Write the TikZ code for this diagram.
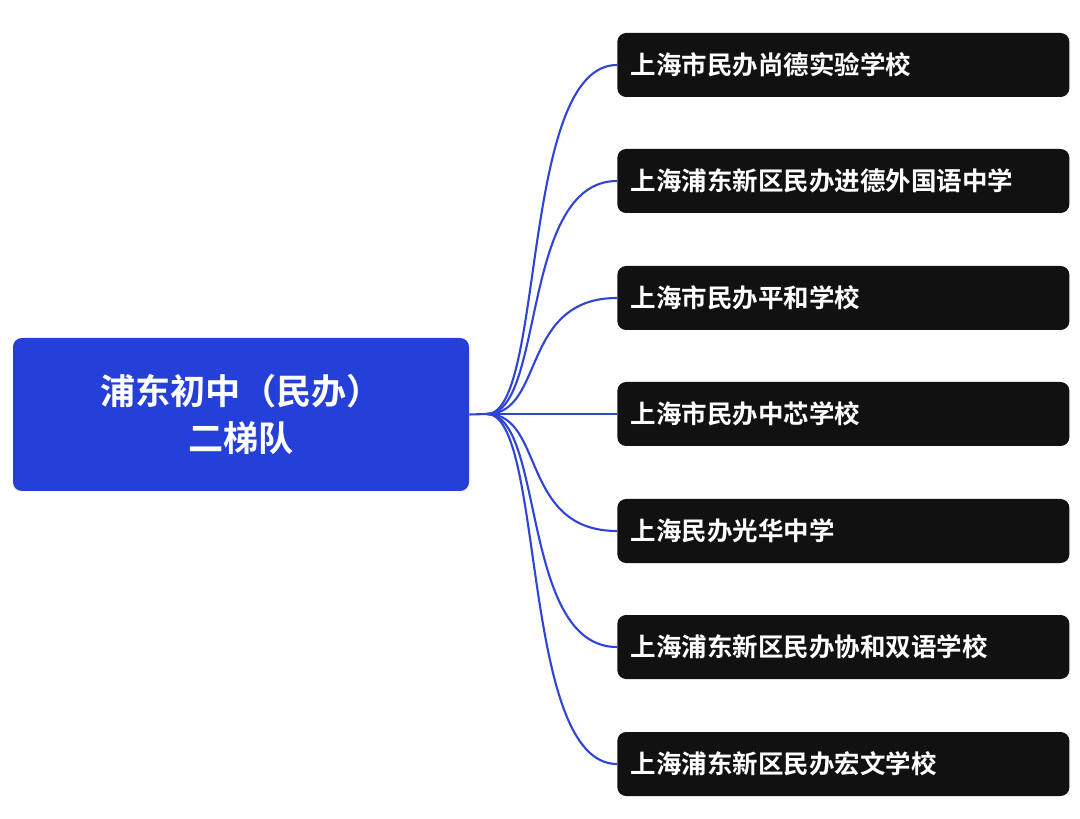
\documentclass[tikz,border=0pt]{standalone}
\usepackage{fontspec}
\newfontfamily\cjk[BoldFont={Noto Sans CJK SC Bold}]{Noto Sans CJK SC}
\definecolor{rootblue}{HTML}{2440D8}
\definecolor{leafblack}{HTML}{111111}
\definecolor{linkblue}{HTML}{2F45D6}
\tikzset{
  rootbox/.style={fill=rootblue, rounded corners=5pt, minimum width=9.12cm, minimum height=3.06cm,
    text=white, font=\cjk\bfseries\fontsize{20}{27}\selectfont, align=center},
  leafbox/.style={fill=leafblack, rounded corners=5pt, minimum width=9.04cm, minimum height=1.28cm,
    text=white, font=\cjk\bfseries\fontsize{14.5}{17}\selectfont, anchor=west, text width=8.5cm, align=left},
  link/.style={draw=linkblue, line width=1.2pt}
}
\begin{document}
\begin{tikzpicture}
    \useasboundingbox (0,0) rectangle (21.6,-16.38);
    % root
    \node[rootbox] (root) at (4.82,-8.29) {浦东初中（民办）\\二梯队};
    \coordinate (hub) at (9.74,-8.28);
    \draw[link] (root.east) -- (hub);
    % schools
    \foreach \i/\yy/\name in {1/1.30/上海市民办尚德实验学校,
        2/3.62/上海浦东新区民办进德外国语中学,
        3/5.96/上海市民办平和学校,
        4/8.28/上海市民办中芯学校,
        5/10.62/上海民办光华中学,
        6/12.94/上海浦东新区民办协和双语学校,
        7/15.28/上海浦东新区民办宏文学校} {
      \node[leafbox] (s\i) at (12.34,-\yy) {\name};
      \draw[link] (hub) .. controls (10.9,-8.28) and (10.4,-\yy) .. (s\i.west);
    }
\end{tikzpicture}
\end{document}
